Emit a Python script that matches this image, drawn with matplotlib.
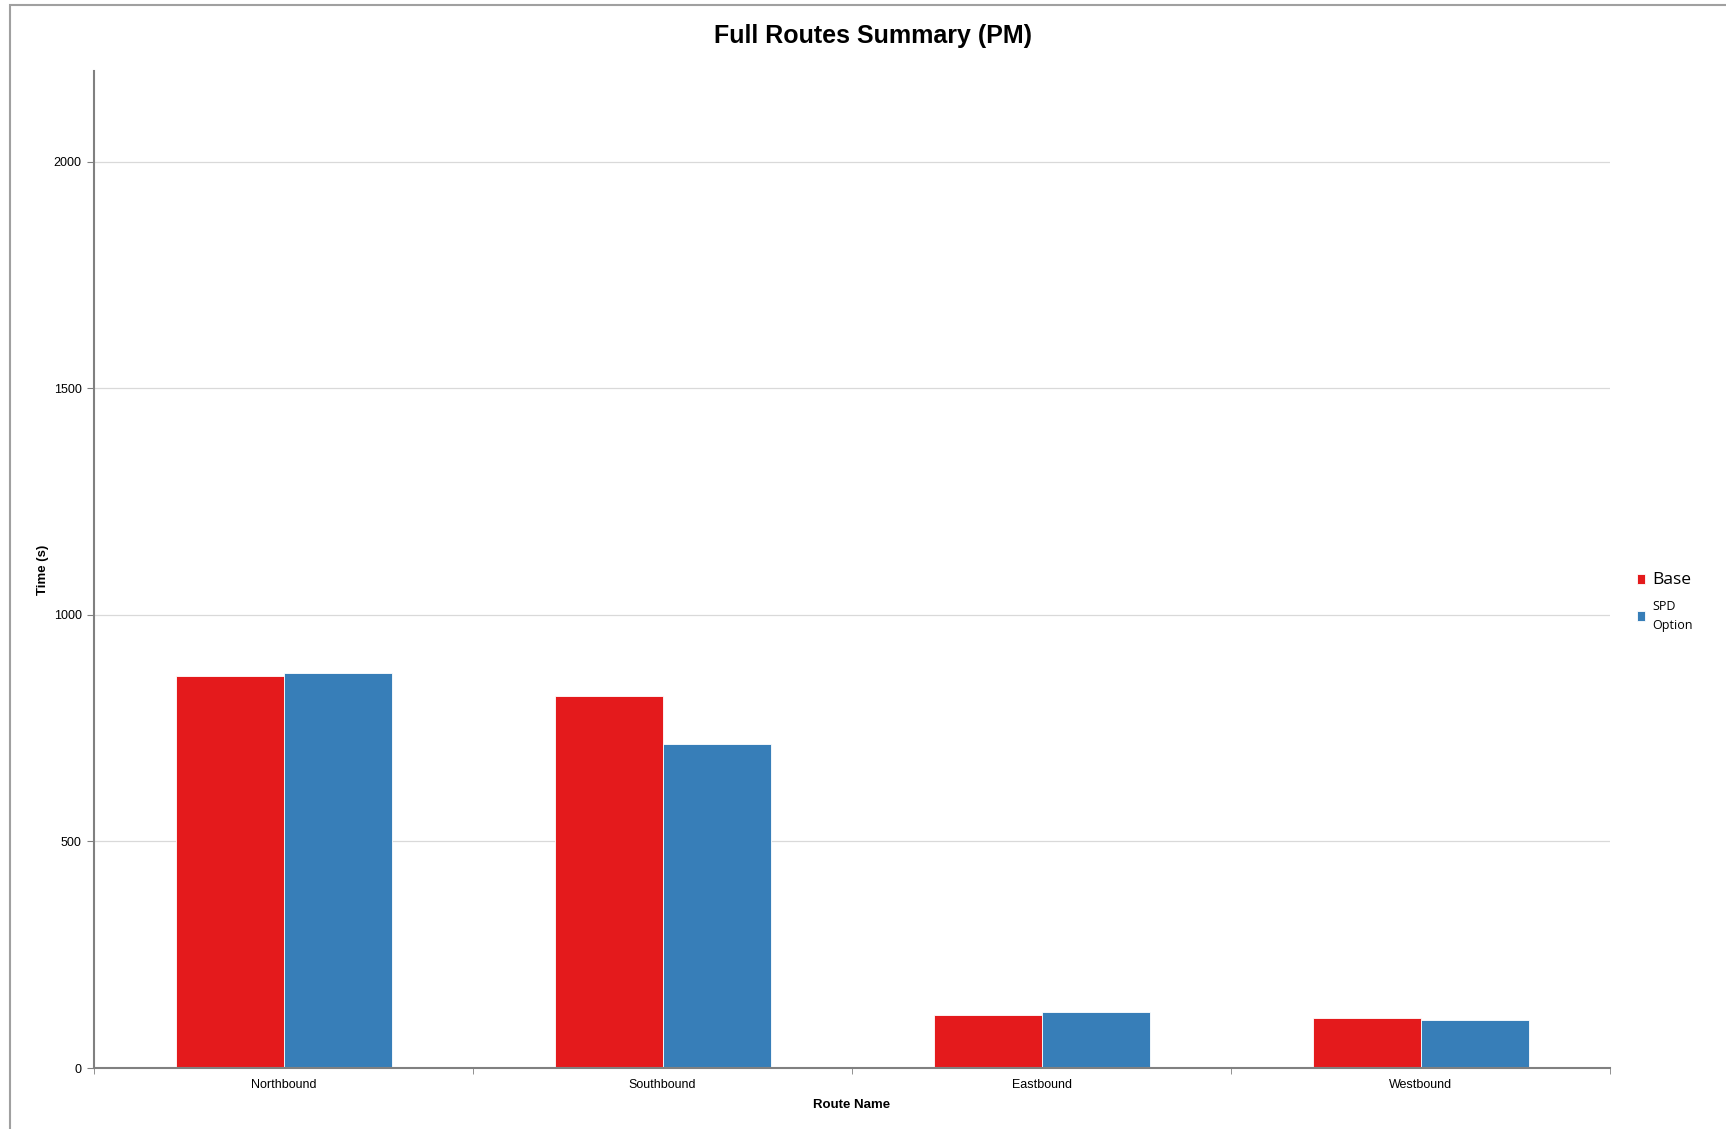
import matplotlib.pyplot as plt
import numpy as np
from matplotlib.patches import Rectangle

routes = ["Northbound", "Southbound", "Eastbound", "Westbound"]
base = [865, 820, 116, 110]
spd_option = [872, 714, 123, 107]
series_names = ["Base", "SPD\nOption"]
y_ticks = [0, 500, 1000, 1500, 2000]

red = "#E41A1C"
blue = "#377EB8"

plt.rcParams["font.family"] = ["Liberation Sans", "DejaVu Sans"]

fig = plt.figure(figsize=(17.26, 11.29), dpi=100)
ax = fig.add_axes([0.0545, 0.054, 0.8783, 0.883])

x = np.arange(len(routes))
w = 0.285

b1 = ax.bar(x - w / 2, base, width=w, color=red, edgecolor="white", linewidth=0.6, label=series_names[0], zorder=3)
b2 = ax.bar(x + w / 2, spd_option, width=w, color=blue, edgecolor="white", linewidth=0.6, label=series_names[1], zorder=3)

ax.set_xlim(-0.5, len(routes) - 0.5)
ax.set_ylim(0, 2200)
ax.set_yticks(y_ticks)
ax.set_yticklabels([str(v) for v in y_ticks], fontsize=9)
ax.set_xticks(x)
ax.set_xticklabels(routes, fontsize=9)
ax.set_xticks(np.arange(len(routes) + 1) - 0.5, minor=True)
ax.tick_params(axis="x", which="major", length=0, pad=8)
ax.tick_params(axis="x", which="minor", length=4, color="#808080", direction="out")
ax.tick_params(axis="y", length=5, color="#808080", direction="out", pad=4)

ax.grid(axis="y", color="#d9d9d9", linewidth=0.9, zorder=0)
for s in ["top", "right"]:
    ax.spines[s].set_visible(False)
for s in ["left", "bottom"]:
    ax.spines[s].set_color("#808080")
    ax.spines[s].set_linewidth(1.5)
ax.spines["bottom"].set_zorder(4)

ax.set_xlabel("Route Name", fontsize=9.5, fontweight="bold", labelpad=6)
ax.set_ylabel("Time (s)", fontsize=9.5, fontweight="bold")
ax.yaxis.set_label_coords(-0.030, 0.5)

fig.text(0.506, 0.968, "Full Routes Summary (PM)", ha="center", va="center",
         fontsize=18, fontweight="bold")

leg = fig.legend(handles=[b1, b2], labels=series_names, loc="center left",
                 bbox_to_anchor=(0.941, 0.467), frameon=False,
                 handlelength=0.6, handleheight=0.75, handletextpad=0.5,
                 labelspacing=0.9)
texts = leg.get_texts()
texts[0].set_fontsize(12.5)
texts[1].set_fontsize(9)
texts[1].set_linespacing(1.55)
for t in texts:
    t.set_family(["Open Sans", "DejaVu Sans"])

fig.patches.append(Rectangle((10 / 1726, -0.1), 1.2, 1 - 5 / 1129 + 0.1,
                             transform=fig.transFigure, fill=False,
                             edgecolor="#a0a0a0", linewidth=1.5))

fig.savefig("out.png", dpi=100)
